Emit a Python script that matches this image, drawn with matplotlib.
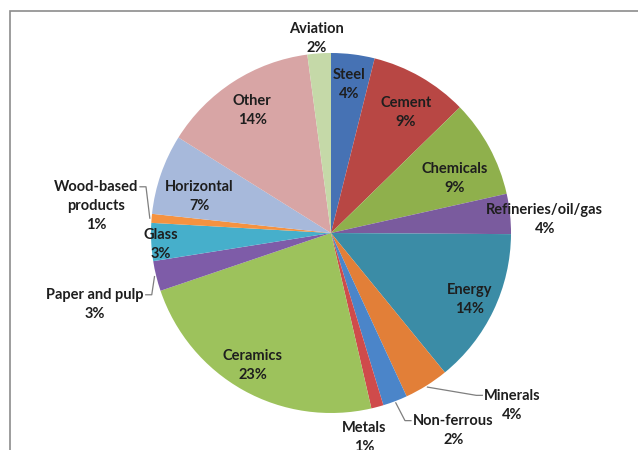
import numpy as np
import matplotlib.pyplot as plt

# sector shares (%), clockwise from 12 o'clock
sectors = ['Steel', 'Cement', 'Chemicals', 'Refineries/oil/gas', 'Energy',
           'Minerals', 'Non-ferrous', 'Metals', 'Ceramics', 'Paper and pulp',
           'Glass', 'Wood-based\nproducts', 'Horizontal', 'Other', 'Aviation']
shares = [3.9, 8.8, 8.8, 3.6, 14.0, 4.0, 2.2, 1.1, 23.4, 2.7, 3.4, 0.8, 7.2, 14.0, 2.1]

colors = ['#4672b4', '#b84744', '#8fb04c', '#7a5b9e', '#3b8ca6', '#e27f38',
          '#4b85c9', '#cf4b4b', '#9dc25c', '#7e5ca8', '#46afcb', '#f59240',
          '#a7b9db', '#d8a5a5', '#c5d9a8']

# label placement: angle offset from wedge middle (deg) and radius (fraction of R)
lab_dtheta = [0, 2, 4.5, 2.4, 0, -14.5, -10.9, 5.8, 1.3, -3.0, -1.0, 1.8, -3.4, 0, -0.5]
lab_r = [0.83, 0.79, 0.75, 1.19, 0.855, 1.39, 1.29, 1.15, 0.857, 1.37, 0.95, 1.315, 0.76, 0.81, 1.085]
# leader lines: +1 label on the right of the line, -1 on the left, 0 none
leader = [0, 0, 0, 0, 0, 1, 1, 0, 0, -1, 0, -1, 0, 0, 0]

W, H = 638, 450
cx, cy, R = 331, 217, 180

fig = plt.figure(figsize=(W / 100, H / 100), dpi=100)
ax = fig.add_axes([0, 0, 1, 1])
ax.pie(shares, colors=colors, startangle=90, counterclock=False,
       center=(cx, cy), radius=R, wedgeprops=dict(linewidth=0))
ax.set_xlim(0, W)
ax.set_ylim(0, H)
ax.set_aspect('equal')
ax.axis('off')

# chart area border (cropped on right and bottom)
ax.plot([10, 10, W + 5], [-5, H - 11, H - 11], color='#8c8c8c', lw=1.2,
        solid_joinstyle='miter', clip_on=False)

font = dict(family=['Lato', 'DejaVu Sans'], fontweight='bold', fontsize=10.5,
            color='#1e1e1e')
line_h = 19.5
fig.canvas.draw()
renderer = fig.canvas.get_renderer()

total = sum(shares)
cum = np.cumsum([0] + shares)
for i, name in enumerate(sectors):
    mid = (cum[i] + cum[i + 1]) / 2 / total * 360
    th = np.radians(mid + lab_dtheta[i])
    lx = cx + lab_r[i] * R * np.sin(th)
    ly = cy + lab_r[i] * R * np.cos(th)
    label = f'{name}\n{round(shares[i])}%'
    ax.text(lx, ly, label, ha='center', va='center', linespacing=1.45,
            clip_on=False, **font)
    if leader[i]:
        nlines = label.count('\n') + 1
        first = name.split('\n')[0]
        t = ax.text(0, 0, first, **font)
        w = t.get_window_extent(renderer).width
        t.remove()
        y1 = ly + (nlines - 1) / 2 * line_h
        x_end = lx - leader[i] * (w / 2 + 2)
        x_elb = x_end - leader[i] * 6
        m = np.radians(mid)
        x0 = cx + 1.01 * R * np.sin(m)
        y0 = cy + 1.01 * R * np.cos(m)
        ax.plot([x0, x_elb, x_end], [y0, y1, y1], color='#7f7f7f', lw=0.9,
                clip_on=False)

fig.savefig('out.png', dpi=100)
